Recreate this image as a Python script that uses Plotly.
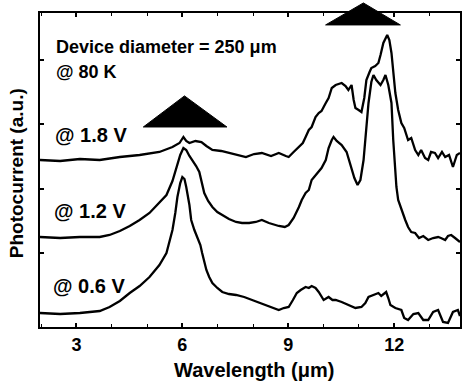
import plotly.graph_objects as go

# ---- data (wavelength in um, photocurrent in a.u.) ----
wl_18 = [1.97, 2.54, 3.10, 3.66, 4.23, 4.79, 5.35, 5.72, 5.92, 6.03, 6.11, 6.20, 6.37, 6.54, 6.68, 6.85,
         7.10, 7.32, 7.61, 7.80, 8.03, 8.25, 8.51, 8.73, 8.93, 9.01, 9.15, 9.30, 9.41, 9.49, 9.58, 9.66,
         9.77, 9.86, 9.94, 10.06, 10.14, 10.23, 10.34, 10.51, 10.62, 10.70, 10.79, 10.85, 10.90, 10.99,
         11.07, 11.15, 11.21, 11.30, 11.35, 11.46, 11.55, 11.61, 11.69, 11.80, 11.86, 11.92, 11.97, 12.03,
         12.11, 12.20, 12.28, 12.39, 12.48, 12.59, 12.68, 12.76, 12.87, 12.96, 13.04, 13.15, 13.24, 13.35,
         13.44, 13.55, 13.66, 13.77, 13.86]
pc_18 = [1.67, 1.66, 1.68, 1.67, 1.70, 1.72, 1.75, 1.80, 1.84, 1.90, 1.86, 1.84, 1.86, 1.85, 1.81, 1.77,
         1.76, 1.74, 1.71, 1.70, 1.73, 1.74, 1.71, 1.74, 1.71, 1.70, 1.75, 1.80, 1.84, 1.90, 1.97, 2.00,
         2.10, 2.14, 2.16, 2.24, 2.29, 2.39, 2.42, 2.44, 2.41, 2.37, 2.42, 2.27, 2.19, 2.17,
         2.15, 2.29, 2.47, 2.55, 2.59, 2.61, 2.64, 2.72, 2.84, 2.92, 2.87, 2.74, 2.57, 2.34,
         2.17, 2.04, 1.99, 1.87, 1.89, 1.77, 1.72, 1.77, 1.69, 1.67, 1.75, 1.74, 1.69, 1.75,
         1.70, 1.72, 1.60, 1.72, 1.74]

wl_12 = [1.97, 2.54, 3.10, 3.66, 3.94, 4.23, 4.51, 4.79, 5.07, 5.35, 5.55, 5.72, 5.86, 5.94, 6.03, 6.11,
         6.20, 6.28, 6.39, 6.48, 6.56, 6.62, 6.73, 6.85, 6.99, 7.13, 7.32, 7.52, 7.69, 7.89, 8.08, 8.25,
         8.45, 8.73, 8.90, 9.01, 9.15, 9.30, 9.38, 9.49, 9.58, 9.66, 9.77, 9.86, 9.94, 10.06, 10.14,
         10.23, 10.28, 10.37, 10.51, 10.65, 10.79, 10.87, 10.96, 11.04, 11.13, 11.21, 11.27, 11.35,
         11.41, 11.49, 11.61, 11.69, 11.75, 11.83, 11.92, 11.97, 12.06, 12.11, 12.20, 12.31, 12.39,
         12.48, 12.59, 12.70, 12.82, 12.96, 13.10, 13.24, 13.32, 13.44, 13.52, 13.61, 13.72, 13.86]
pc_12 = [0.90, 0.89, 0.90, 0.90, 0.92, 0.96, 1.01, 1.07, 1.14, 1.24, 1.32, 1.46, 1.62, 1.72, 1.79, 1.77,
         1.71, 1.67, 1.61, 1.55, 1.44, 1.34, 1.26, 1.20, 1.15, 1.12, 1.08, 1.05, 1.04, 1.04, 1.05, 1.07,
         1.04, 1.01, 1.00, 1.02, 1.09, 1.20, 1.27, 1.34, 1.37, 1.47, 1.52, 1.55, 1.59, 1.67, 1.79,
         1.87, 1.90, 1.86, 1.82, 1.75, 1.57, 1.49, 1.42, 1.47, 1.67, 2.02, 2.24, 2.45,
         2.52, 2.47, 2.42, 2.47, 2.52, 2.42, 2.24, 1.87, 1.40, 1.27, 1.17, 1.07, 1.00,
         0.95, 0.94, 0.89, 0.91, 0.87, 0.89, 0.90, 0.89, 0.87, 0.91, 0.92, 0.89, 0.85]

wl_06 = [1.97, 2.54, 3.10, 3.38, 3.66, 3.94, 4.23, 4.51, 4.79, 5.07, 5.35, 5.55, 5.72, 5.80, 5.86, 5.94,
         6.00, 6.06, 6.11, 6.20, 6.25, 6.34, 6.42, 6.51, 6.56, 6.62, 6.68, 6.76, 6.85, 6.99, 7.13, 7.32,
         7.52, 7.75, 7.97, 8.17, 8.37, 8.54, 8.73, 8.87, 9.01, 9.13, 9.24, 9.35, 9.49, 9.58, 9.66, 9.77,
         9.86, 10.00, 10.14, 10.25, 10.34, 10.51, 10.70, 10.90, 11.07, 11.18, 11.27, 11.41, 11.55, 11.63,
         11.77, 11.83, 11.89, 12.03, 12.20, 12.28, 12.39, 12.54, 12.68, 12.82, 12.96, 13.10, 13.24, 13.38,
         13.52, 13.66, 13.80, 13.86]
pc_06 = [0.14, 0.13, 0.14, 0.15, 0.16, 0.20, 0.26, 0.34, 0.41, 0.50, 0.62, 0.74, 0.97, 1.14, 1.30, 1.44,
         1.50, 1.48, 1.40, 1.22, 1.07, 0.97, 0.90, 0.82, 0.74, 0.65, 0.57, 0.50, 0.44, 0.39, 0.35, 0.33,
         0.32, 0.30, 0.27, 0.25, 0.22, 0.20, 0.17, 0.19, 0.20, 0.27, 0.34, 0.37, 0.40, 0.39, 0.41, 0.39,
         0.35, 0.27, 0.30, 0.27, 0.27, 0.25, 0.22, 0.19, 0.20, 0.24, 0.30, 0.32, 0.34, 0.31,
         0.35, 0.29, 0.22, 0.19, 0.17, 0.09, 0.07, 0.13, 0.14, 0.07, 0.07, 0.15, 0.17, 0.05,
         0.04, 0.15, 0.17, 0.11]

x_ticks = [3, 6, 9, 12]
x_ticklabels = ["<b>3</b>", "<b>6</b>", "<b>9</b>", "<b>12</b>"]
y_ticks = [0.74, 1.38, 2.03, 2.67]

FONT = "Liberation Sans, Arial, sans-serif"

fig = go.Figure()
for wl, pc in [(wl_18, pc_18), (wl_12, pc_12), (wl_06, pc_06)]:
    fig.add_trace(go.Scatter(x=wl, y=pc, mode="lines",
                             line=dict(color="black", width=2.3), showlegend=False))

axis_common = dict(showline=True, linecolor="black", linewidth=2, mirror="allticks",
                   ticks="inside", tickcolor="black", tickwidth=1.5, ticklen=4,
                   showgrid=False, zeroline=False)

fig.update_xaxes(range=[1.97, 13.86], tickvals=x_ticks, ticktext=x_ticklabels,
                 tickfont=dict(family=FONT, size=18, color="black"),
                 minor=dict(dtick=1, tick0=0, ticks="inside", ticklen=3, tickcolor="black", tickwidth=1),
                 **axis_common)
fig.update_yaxes(range=[0, 3.14], tickvals=y_ticks, showticklabels=False, **axis_common)

# triangles (decorative markers)
fig.add_shape(type="path", xref="paper", yref="paper",
              path="M 0.246 0.637 L 0.344 0.736 L 0.445 0.637 Z",
              fillcolor="black", line=dict(color="black", width=1))
fig.add_shape(type="path", xref="paper", yref="paper",
              path="M 0.680 0.962 L 0.770 1.032 L 0.858 0.962 Z",
              fillcolor="black", line=dict(color="black", width=1))

def label(text, x, y, size, **kw):
    fig.add_annotation(text=text, x=x, y=y, xref="paper", yref="paper", showarrow=False,
                       xanchor="left", yanchor="middle",
                       font=dict(family=FONT, size=size, color="black"), **kw)

label("<b>Device diameter = 250 μm</b>", 0.034, 0.892, 18)
label("<b>@ 80 K</b>", 0.034, 0.812, 18)
label("<b>@ 1.8 V</b>", 0.031, 0.611, 20)
label("<b>@ 1.2 V</b>", 0.028, 0.369, 20)
label("<b>@ 0.6 V</b>", 0.026, 0.131, 20)

fig.add_annotation(text="<b>Wavelength (μm)</b>", x=0.51, y=-0.137, xref="paper", yref="paper",
                   showarrow=False, xanchor="center", yanchor="middle",
                   font=dict(family=FONT, size=20, color="black"))
fig.add_annotation(text="<b>Photocurrent (a.u.)</b>", x=-0.057, y=0.49, xref="paper", yref="paper",
                   showarrow=False, xanchor="center", yanchor="middle", textangle=-90,
                   font=dict(family=FONT, size=19, color="black"))

fig.update_layout(width=466, height=382, margin=dict(l=40, r=4, t=13, b=55),
                  paper_bgcolor="white", plot_bgcolor="white")

fig.write_html("out.html")
